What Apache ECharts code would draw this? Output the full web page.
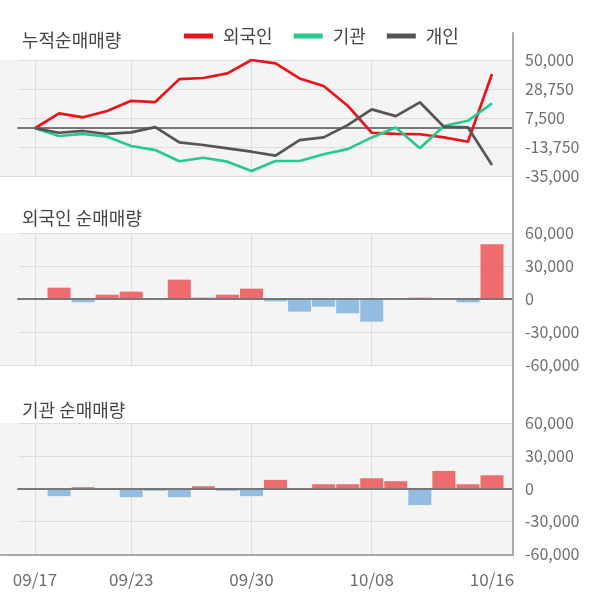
<!DOCTYPE html>
<html>
<head>
<meta charset="utf-8">
<script src="https://cdn.jsdelivr.net/npm/echarts@6/dist/echarts.min.js"></script>
<style>
html,body{margin:0;padding:0;background:#fff;}
#c{width:600px;height:604px;}
</style>
</head>
<body>
<div id="c"></div>
<script>
// ---- data ----
const dates = ['09/17','09/18','09/19','09/20','09/23','09/24','09/25','09/26','09/27','09/30',
               '10/01','10/02','10/04','10/07','10/08','10/10','10/11','10/14','10/15','10/16'];
const foreignCum = [0, 10900, 8000, 12600, 20100, 19200, 36000, 36800, 40200, 50000,
                    47500, 36500, 30900, 16500, -3300, -4200, -4400, -6700, -9900, 39700];
const instCum    = [0, -5700, -4200, -6200, -13000, -16000, -24200, -21600, -24500, -31300,
                    -24000, -24000, -19100, -15300, -6700, 600, -14700, 1600, 5500, 18200];
const indivCum   = [0, -3300, -2000, -4200, -3000, 800, -10300, -12300, -14700, -17200,
                    -20100, -8700, -6700, 2300, 13800, 8900, 19000, 1100, 600, -27000];
const foreignDaily = [0, 10300, -3000, 3900, 6700, 0, 17600, 1200, 3900, 9400,
                      -2100, -11500, -7000, -13000, -20600, 0, 1200, 0, -3000, 49700];
const instDaily    = [0, -7000, 1200, 0, -7900, -2100, -7900, 2100, -2100, -7000,
                      7900, 0, 3900, 3900, 9400, 6700, -15200, 16100, 3900, 12100];
const cumTicks   = [-35000, -13750, 7500, 28750, 50000];
const dailyTicks = [-60000, -30000, 0, 30000, 60000];
const labelIdx = [0, 4, 9, 14, 19];
const vLineIdx = [0, 4, 9, 14];
const seriesNames = ['외국인', '기관', '개인'];
const titles = ['누적순매매량', '외국인 순매매량', '기관 순매매량'];

// ---- styling ----
const FONT = '"Noto Sans CJK KR", "Noto Sans", sans-serif';
const lineColors = ['#e8141b', '#28c98c', '#555555'];
const POS = '#ed6c6d', NEG = '#92bde0';
const panels = [
  {top: 60, height: 116, ticks: cumTicks},
  {top: 233, height: 132, ticks: dailyTicks},
  {top: 423, height: 131, ticks: dailyTicks}
];
const titleTops = [20, 198, 390];

const grid = [], xAxis = [], yAxis = [], series = [];
const fmt = v => Number(v).toLocaleString('en-US');

panels.forEach((p, k) => {
  const mn = p.ticks[0], mx = p.ticks[p.ticks.length - 1];
  // background grid
  const gb = grid.length;
  grid.push({left: 0, width: 513, top: p.top, height: p.height, show: true,
             backgroundColor: '#f4f4f4', borderWidth: 0});
  xAxis.push({gridIndex: gb, type: 'value', min: 0, max: 1,
    axisLine: {show: true, onZero: false, lineStyle: {color: '#dddddd', width: 1}},
    axisTick: {show: false}, axisLabel: {show: false}, splitLine: {show: false}});
  yAxis.push({gridIndex: gb, type: 'value', min: 0, max: 1, show: false});
  // gridline / label grid
  const gl = grid.length;
  grid.push({left: 18, width: 495, top: p.top, height: p.height});
  xAxis.push({gridIndex: gl, type: 'value', min: 0, max: 1, z: 3,
    axisLine: {show: true, onZero: true, lineStyle: {color: '#777777', width: 2}},
    axisTick: {show: false}, axisLabel: {show: false}, splitLine: {show: false}});
  yAxis.push({gridIndex: gl, type: 'category', position: 'right', boundaryGap: false,
    data: p.ticks.map(String),
    axisLine: {show: false, onZero: false}, axisTick: {show: false},
    axisLabel: {show: true, interval: 0, margin: 12, color: '#6e6e6e', fontSize: 16,
                fontFamily: FONT, formatter: v => fmt(v)},
    splitLine: {show: true, interval: 0, lineStyle: {color: '#dddddd', width: 1}}});
  yAxis.push({gridIndex: gl, type: 'value', min: mn, max: mx, show: false,
    axisLine: {onZero: false}, splitLine: {show: false}});
  // data grid
  const gd = grid.length;
  grid.push({left: 35, width: 457, top: p.top, height: p.height});
  xAxis.push({gridIndex: gd, type: 'category', data: dates, boundaryGap: false,
    axisLine: {show: false, onZero: false}, axisTick: {show: false},
    axisLabel: {show: k === 2, interval: (i) => labelIdx.includes(i), margin: 17,
                color: '#6e6e6e', fontSize: 17, fontFamily: FONT},
    splitLine: {show: true, interval: (i) => vLineIdx.includes(i),
                lineStyle: {color: '#dddddd', width: 1}}});
  yAxis.push({gridIndex: gd, type: 'value', min: mn, max: mx, show: false,
    axisLine: {onZero: false}, splitLine: {show: false}});
  p.xi = xAxis.length - 1;
  p.yi = yAxis.length - 1;
});

// frame: right axis line and bottom axis line
const gf = grid.length;
grid.push({left: 1, width: 512, top: 33, height: 522});
xAxis.push({gridIndex: gf, type: 'value', min: 0, max: 1, z: 4,
  axisLine: {show: true, onZero: false, lineStyle: {color: '#aaaaaa', width: 2}},
  axisTick: {show: false}, axisLabel: {show: false}, splitLine: {show: false}});
yAxis.push({gridIndex: gf, type: 'value', min: 0, max: 1, position: 'right', z: 4,
  axisLine: {show: true, onZero: false, lineStyle: {color: '#aaaaaa', width: 2}},
  axisTick: {show: false}, axisLabel: {show: false}, splitLine: {show: false}});

[foreignCum, instCum, indivCum].forEach((d, i) => {
  series.push({name: seriesNames[i], type: 'line', data: d,
    xAxisIndex: panels[0].xi, yAxisIndex: panels[0].yi,
    symbol: 'none', showSymbol: false, z: 5,
    itemStyle: {color: lineColors[i]},
    lineStyle: {color: lineColors[i], width: 2.7}});
});
[foreignDaily, instDaily].forEach((d, i) => {
  const p = panels[i + 1];
  series.push({type: 'bar', data: d, xAxisIndex: p.xi, yAxisIndex: p.yi,
    barWidth: 23, clip: false, z: 2,
    itemStyle: {color: (prm) => prm.value >= 0 ? POS : NEG}});
});

const option = {
  animation: false,
  backgroundColor: '#ffffff',
  textStyle: {fontFamily: FONT},
  title: titles.map((t, i) => ({text: t, left: 17, top: titleTops[i],
    textStyle: {fontSize: 18, fontWeight: 'normal', color: '#444444', fontFamily: FONT, lineHeight: 30}})),
  legend: {left: 179, top: 22, itemWidth: 29, itemHeight: 5, itemGap: 21,
    data: seriesNames.map(n => ({name: n, icon: 'rect'})),
    textStyle: {fontSize: 18, color: '#444444', fontFamily: FONT, padding: [0, 0, 0, 5]}},
  grid, xAxis, yAxis, series
};
const chart = echarts.init(document.getElementById('c'), null, {renderer: 'canvas'});
chart.setOption(option);
</script>
</body>
</html>
